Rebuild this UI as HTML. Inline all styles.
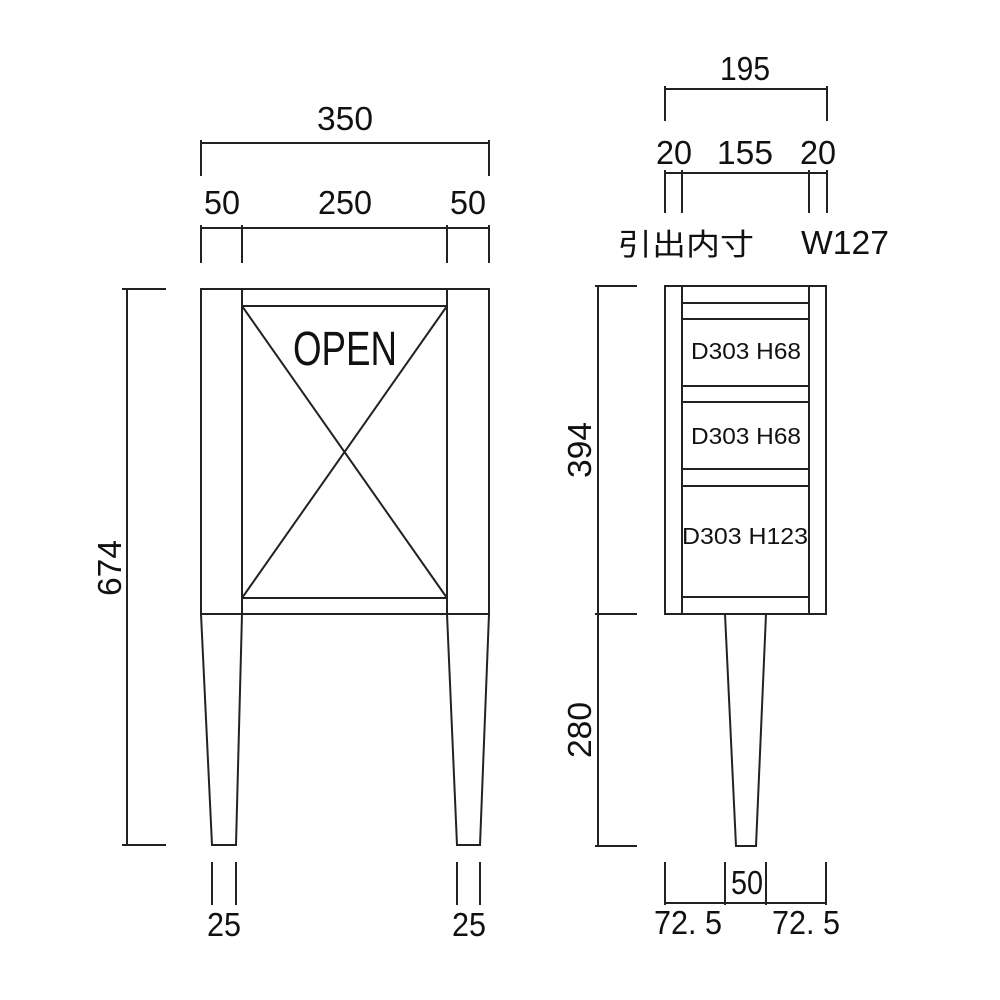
<!DOCTYPE html>
<html><head><meta charset="utf-8"><style>html,body{margin:0;padding:0;background:#fff}svg{display:block}text{font-family:"Liberation Sans","Noto Sans CJK JP",sans-serif;fill:#111}</style></head><body>
<svg width="1000" height="1000" viewBox="0 0 1000 1000" xmlns="http://www.w3.org/2000/svg">
<g stroke="#222" stroke-width="2" fill="none">
<rect x="201" y="289" width="288" height="325"/>
<line x1="242" y1="289" x2="242" y2="614"/>
<line x1="447" y1="289" x2="447" y2="614"/>
<line x1="242" y1="306" x2="447" y2="306"/>
<line x1="242" y1="598" x2="447" y2="598"/>
<line x1="242" y1="306" x2="447" y2="598"/>
<line x1="447" y1="306" x2="242" y2="598"/>
<polyline points="201,614 212,845 236,845 242,614"/>
<polyline points="447,614 457,845 480,845 489,614"/>
<line x1="201" y1="143" x2="489" y2="143"/>
<line x1="201" y1="140" x2="201" y2="176"/><line x1="489" y1="140" x2="489" y2="176"/>
<line x1="201" y1="228" x2="489" y2="228"/>
<line x1="201" y1="225" x2="201" y2="263"/><line x1="242" y1="225" x2="242" y2="263"/>
<line x1="447" y1="225" x2="447" y2="263"/><line x1="489" y1="225" x2="489" y2="263"/>
<line x1="127" y1="289" x2="127" y2="845"/>
<line x1="122" y1="289" x2="166" y2="289"/><line x1="122" y1="845" x2="166" y2="845"/>
<line x1="212" y1="862" x2="212" y2="905"/><line x1="236" y1="862" x2="236" y2="905"/>
<line x1="457" y1="862" x2="457" y2="905"/><line x1="480" y1="862" x2="480" y2="905"/>
<rect x="665" y="286" width="161" height="328"/>
<line x1="682" y1="286" x2="682" y2="614"/>
<line x1="809" y1="286" x2="809" y2="614"/>
<line x1="682" y1="303" x2="809" y2="303"/><line x1="682" y1="319" x2="809" y2="319"/>
<line x1="682" y1="386" x2="809" y2="386"/><line x1="682" y1="402" x2="809" y2="402"/>
<line x1="682" y1="469" x2="809" y2="469"/><line x1="682" y1="486" x2="809" y2="486"/>
<line x1="682" y1="597" x2="809" y2="597"/>
<polyline points="725,614 736,846 756,846 766,614"/>
<line x1="665" y1="89" x2="827" y2="89"/>
<line x1="665" y1="86" x2="665" y2="121"/><line x1="827" y1="86" x2="827" y2="121"/>
<line x1="665" y1="173" x2="827" y2="173"/>
<line x1="665" y1="170" x2="665" y2="213"/><line x1="682" y1="170" x2="682" y2="213"/>
<line x1="809" y1="170" x2="809" y2="213"/><line x1="827" y1="170" x2="827" y2="213"/>
<line x1="598" y1="286" x2="598" y2="846"/>
<line x1="595" y1="286" x2="637" y2="286"/><line x1="595" y1="614" x2="637" y2="614"/><line x1="595" y1="846" x2="637" y2="846"/>
<line x1="665" y1="903" x2="826" y2="903"/>
<line x1="665" y1="862" x2="665" y2="905"/><line x1="725" y1="862" x2="725" y2="905"/>
<line x1="766" y1="862" x2="766" y2="905"/><line x1="826" y1="862" x2="826" y2="905"/>
</g>
<g font-size="33" text-anchor="middle">
<text x="345" y="130" textLength="56" lengthAdjust="spacingAndGlyphs">350</text>
<text x="222" y="214" textLength="36" lengthAdjust="spacingAndGlyphs">50</text>
<text x="345" y="214" textLength="54" lengthAdjust="spacingAndGlyphs">250</text>
<text x="468" y="214" textLength="36" lengthAdjust="spacingAndGlyphs">50</text>
<text x="224" y="936" textLength="34" lengthAdjust="spacingAndGlyphs">25</text>
<text x="469" y="936" textLength="34" lengthAdjust="spacingAndGlyphs">25</text>
<text transform="translate(121,568) rotate(-90)" textLength="56" lengthAdjust="spacingAndGlyphs">674</text>
<text x="745" y="80" textLength="50" lengthAdjust="spacingAndGlyphs">195</text>
<text x="674" y="164" textLength="36" lengthAdjust="spacingAndGlyphs">20</text>
<text x="745" y="164" textLength="56" lengthAdjust="spacingAndGlyphs">155</text>
<text x="818" y="164" textLength="36" lengthAdjust="spacingAndGlyphs">20</text>
<text x="686" y="255" font-size="30" textLength="136" lengthAdjust="spacingAndGlyphs">引出内寸</text>
<text x="845" y="254" textLength="88" lengthAdjust="spacingAndGlyphs">W127</text>
<text transform="translate(591,450) rotate(-90)" textLength="56" lengthAdjust="spacingAndGlyphs">394</text>
<text transform="translate(591,730) rotate(-90)" textLength="56" lengthAdjust="spacingAndGlyphs">280</text>
<text x="747" y="894" textLength="32" lengthAdjust="spacingAndGlyphs">50</text>
<text x="688" y="934" textLength="68" lengthAdjust="spacingAndGlyphs">72. 5</text>
<text x="806" y="934" textLength="68" lengthAdjust="spacingAndGlyphs">72. 5</text>
</g>
<text x="345" y="365" font-size="48" text-anchor="middle" textLength="104" lengthAdjust="spacingAndGlyphs">OPEN</text>
<g font-size="23" text-anchor="middle">
<text x="746" y="359" textLength="110" lengthAdjust="spacingAndGlyphs">D303 H68</text>
<text x="746" y="444" textLength="110" lengthAdjust="spacingAndGlyphs">D303 H68</text>
<text x="745" y="544" textLength="126" lengthAdjust="spacingAndGlyphs">D303 H123</text>
</g>
</svg>
</body></html>
